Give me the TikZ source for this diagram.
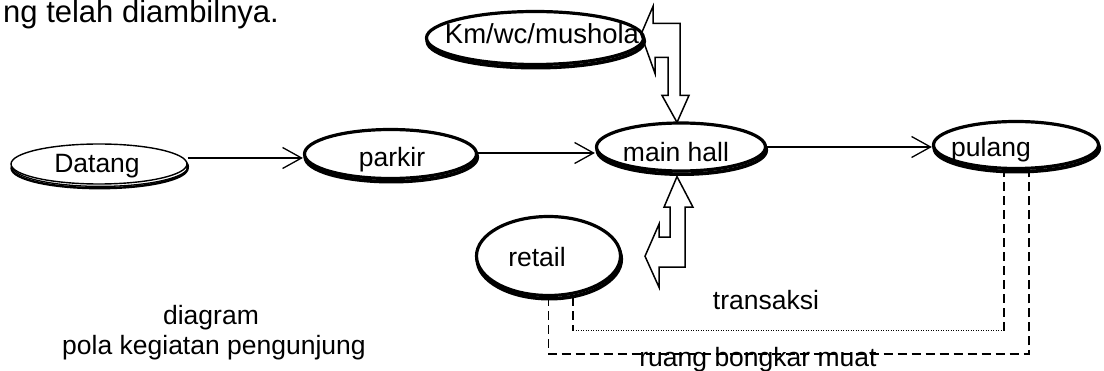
\documentclass[tikz,border=0pt]{standalone}
\usepackage{fontspec}
\setmainfont{Liberation Sans}
\usetikzlibrary{shapes.geometric,arrows.meta,calc}

\begin{document}
\begin{tikzpicture}[x=1pt,y=-1pt,
  lbl/.style={inner sep=0pt, anchor=base, font=\fontsize{26.5}{30}\selectfont},
  oval/.style={ellipse, draw, line width=3.2pt, fill=white, inner sep=0pt,
    preaction={draw, line width=3.6pt, transform canvas={shift={(0.8pt,-3.2pt)}}}},
  ovalthin/.style={ellipse, draw, line width=1.4pt, fill=white, inner sep=0pt,
    preaction={draw, line width=1.3pt, transform canvas={shift={(1.4pt,-2.4pt)}}},
    preaction={draw, line width=2.4pt, transform canvas={shift={(0.6pt,-4.2pt)}}}},
  flow/.style={line width=1.3pt, -{Straight Barb[length=19pt,width=21pt]}},
  blockarrow/.style={draw, line width=1.5pt, line join=miter},
  dashedlink/.style={line width=1.4pt, dash pattern=on 9pt off 5pt},
  dottedlink/.style={line width=1pt, dash pattern=on 1pt off 1.5pt}
]
\useasboundingbox (0,0) rectangle (1104,371);
\fill[white] (0,0) rectangle (1104,371);

% running text above the diagram
\node[lbl, anchor=base west, font=\fontsize{31}{36}\selectfont] (intro) at (3,23) {ng telah diambilnya.};

% activity ovals
\node[ovalthin, minimum width=176pt, minimum height=40pt] (Datang) at (99,164) {};
\node[oval, minimum width=172pt, minimum height=49pt] (parkir) at (390.5,154) {};
\node[oval, minimum width=169pt, minimum height=48pt] (mainhall) at (681,147) {};
\node[oval, minimum width=165pt, minimum height=47pt] (pulang) at (1016,145) {};
\node[oval, minimum width=217pt, minimum height=53pt] (kmwc) at (535,38) {};
\node[oval, minimum width=144pt, minimum height=79pt] (retail) at (548.5,256) {};

% oval captions
\node[lbl] (tDatang) at (97,173) {Datang};
\node[lbl] (tparkir) at (392,167) {parkir};
\node[lbl] (tmainhall) at (676,162) {main hall};
\node[lbl] (tpulang) at (991,157) {pulang};
\node[lbl, font=\fontsize{27.5}{30}\selectfont] (tkmwc) at (542,44) {Km/wc/mushola};
\node[lbl] (tretail) at (537,267) {retail};

% main flow
\draw[flow] ([yshift=6pt]Datang.east) -- ([yshift=6pt]Datang.east -| parkir.west);
\draw[flow] ([yshift=1pt]parkir.east) -- ([yshift=1pt]parkir.east -| mainhall.west);
\draw[flow] (mainhall.east) -- (mainhall.east -| pulang.west);

% two-way block arrow between main hall and Km/wc/mushola
\begin{scope}[shift={(mainhall.north)}]
  \draw[blockarrow] (-40,-87) -- (-28,-115) -- (-28,-98) -- (-1,-98) -- (-1,-26)
    -- (8,-26) -- (-4,1) -- (-19,-26) -- (-13,-26) -- (-13,-64) -- (-26,-64)
    -- (-26,-48) -- cycle;
\end{scope}

% two-way block arrow between main hall and retail
\begin{scope}[shift={(mainhall.south)}]
  \draw[blockarrow] (-4,4) -- (12,34.6) -- (4,34.6) -- (4,94.6) -- (-22,94.6)
    -- (-22,114.6) -- (-36,83.6) -- (-22,51.6) -- (-22,64.6) -- (-11,64.6)
    -- (-11,34.6) -- (-17,34.6) -- cycle;
\end{scope}

% service links from pulang to retail
\coordinate (tL) at ($(retail.center)+(24.5,0)$);
\coordinate (tR) at ($(pulang.center)+(-12,0)$);
\coordinate (bR) at ($(pulang.center)+(13,0)$);

\draw[dashedlink] (tL |- retail.south) -- (tL |- 0,331);
\draw[dottedlink] (tL |- 0,331) -- (tR |- 0,331);
\draw[dashedlink] (tR |- 0,331) -- (tR |- pulang.south);

\draw[dashedlink] (retail.south) -- (retail.south |- 0,354) -- (bR |- 0,354) -- (bR |- pulang.south);

\node[lbl] (ttransaksi) at (766,310) {transaksi};
\node[lbl] (tbongkar) at (758,367) {ruang bongkar muat};

% caption
\node[lbl] (tdiagram) at (211,325) {diagram};
\node[lbl] (tpola) at (214,355) {pola kegiatan pengunjung};
\end{tikzpicture}
\end{document}
